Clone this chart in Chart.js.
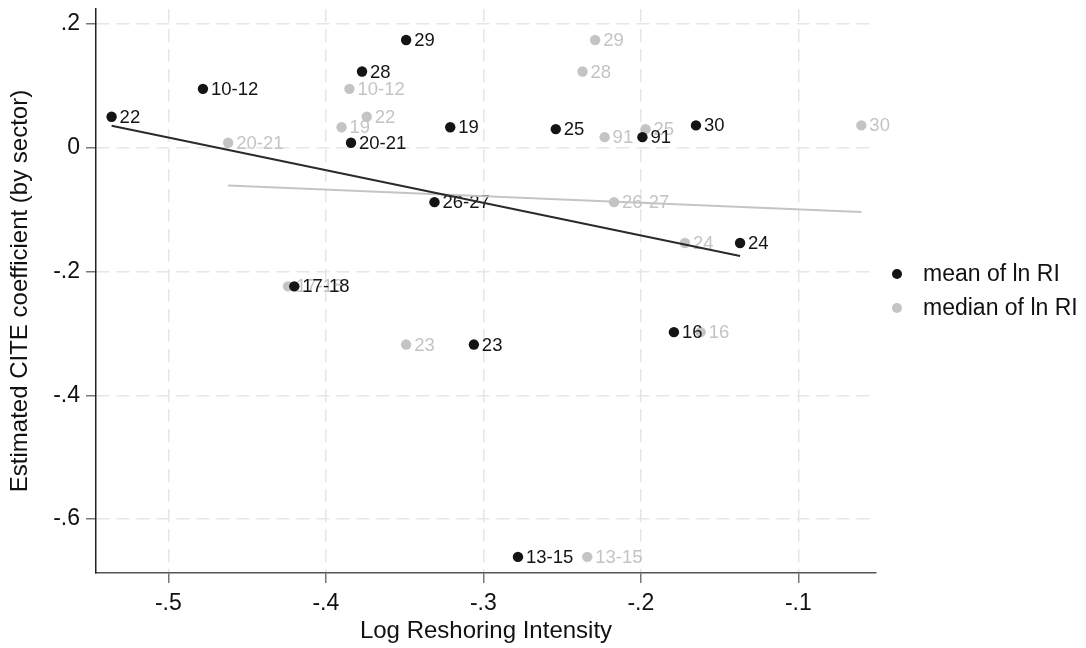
<!DOCTYPE html>
<html>
<head>
<meta charset="utf-8">
<script src="https://cdn.jsdelivr.net/npm/chart.js@4/dist/chart.umd.min.js"></script>
<style>
  body { margin: 0; background: #fff; }
  #wrap { width: 1086px; height: 648px; }
</style>
</head>
<body>
<div id="wrap"><canvas id="chart" width="1086" height="648"></canvas></div>
<script>
// sectors (NACE codes) and their estimated CITE coefficient
const sectors = ['10-12', '13-15', '16', '17-18', '19', '20-21', '22', '23', '24', '25', '26-27', '28', '29', '30', '91'];
const citeCoef = [0.095, -0.661, -0.298, -0.224, 0.033, 0.008, 0.050, -0.318, -0.154, 0.030, -0.088, 0.123, 0.174, 0.036, 0.017];

// log reshoring intensity, mean and median by sector
const meanLnRI = [-0.478, -0.278, -0.179, -0.420, -0.321, -0.384, -0.536, -0.306, -0.137, -0.254, -0.331, -0.377, -0.349, -0.165, -0.199];
const medianLnRI = [-0.385, -0.234, -0.162, -0.424, -0.390, -0.462, -0.374, -0.349, -0.172, -0.197, -0.217, -0.237, -0.229, -0.060, -0.223];

// fitted lines (end points)
const meanFitX = [-0.536, -0.137];
const meanFitY = [0.0355, -0.175];
const medianFitX = [-0.462, -0.060];
const medianFitY = [-0.061, -0.104];

// axis ticks
const xTicks = [-0.5, -0.4, -0.3, -0.2, -0.1];
const xTickLabels = ['-.5', '-.4', '-.3', '-.2', '-.1'];
const yTicks = [0.2, 0, -0.2, -0.4, -0.6];
const yTickLabels = ['.2', '0', '-.2', '-.4', '-.6'];

const FONT = '"Liberation Sans", Arial, Helvetica, sans-serif';
const BLACK = '#141414';
const GREY = '#c4c4c4';

const toPoints = (xs, ys) => xs.map((x, i) => ({ x: x, y: ys[i] }));

// draws the sector label to the right of each marker
const pointLabels = {
  id: 'pointLabels',
  afterDatasetDraw(chart, args) {
    const ds = chart.data.datasets[args.index];
    if (!ds.pointText) return;
    const ctx = chart.ctx;
    ctx.save();
    ctx.font = '18.5px ' + FONT;
    ctx.fillStyle = ds.backgroundColor;
    ctx.textAlign = 'left';
    ctx.textBaseline = 'middle';
    args.meta.data.forEach((pt, i) => {
      ctx.fillText(ds.pointText[i], pt.x + 8, pt.y + 1);
    });
    ctx.restore();
  }
};

// legend on the right, stata style
const sideLegend = {
  id: 'sideLegend',
  afterDraw(chart) {
    const ctx = chart.ctx;
    const area = chart.chartArea;
    const mid = (area.top + area.bottom) / 2;
    const items = chart.data.datasets.filter(d => d.pointText);
    ctx.save();
    ctx.font = '23px ' + FONT;
    ctx.textBaseline = 'middle';
    items.forEach((d, i) => {
      const y = mid - 17 + i * 34;
      ctx.fillStyle = d.backgroundColor;
      ctx.beginPath();
      ctx.arc(area.right + 21, y, 5, 0, Math.PI * 2);
      ctx.fill();
      ctx.fillStyle = '#111';
      ctx.fillText(d.label, area.right + 47, y + 1);
    });
    ctx.restore();
  }
};

const gridOpts = {
  color: '#e6e6e6',
  lineWidth: 1.5,
  tickLength: 10,
  tickColor: '#777',
  tickWidth: 1.5
};

new Chart(document.getElementById('chart').getContext('2d'), {
  type: 'scatter',
  data: {
    datasets: [
      {
        label: 'fit mean',
        data: toPoints(meanFitX, meanFitY),
        showLine: true,
        borderColor: '#2a2a2a',
        borderWidth: 2,
        pointRadius: 0,
        order: 0
      },
      {
        label: 'fit median',
        data: toPoints(medianFitX, medianFitY),
        showLine: true,
        borderColor: GREY,
        borderWidth: 2,
        pointRadius: 0,
        order: 0
      },
      {
        label: 'mean of ln RI',
        data: toPoints(meanLnRI, citeCoef),
        pointText: sectors,
        backgroundColor: BLACK,
        borderWidth: 0,
        pointRadius: 5.2,
        order: 1
      },
      {
        label: 'median of ln RI',
        data: toPoints(medianLnRI, citeCoef),
        pointText: sectors,
        backgroundColor: GREY,
        borderWidth: 0,
        pointRadius: 5.2,
        order: 2
      }
    ]
  },
  options: {
    responsive: false,
    animation: false,
    layout: { padding: { top: 9, right: 210, left: 0, bottom: 0 } },
    plugins: {
      legend: { display: false },
      tooltip: { enabled: false }
    },
    scales: {
      x: {
        type: 'linear',
        min: -0.5459,
        max: -0.0507,
        afterBuildTicks: s => { s.ticks = xTicks.map(v => ({ value: v })); },
        afterFit: s => {
          s.height = 75;
          s.paddingLeft = 0;
          s.paddingRight = 0;
        },
        ticks: {
          font: { family: FONT, size: 23 },
          color: '#111',
          padding: 7,
          maxRotation: 0,
          autoSkip: false,
          callback: (v, i) => xTickLabels[i]
        },
        title: {
          display: true,
          text: 'Log Reshoring Intensity',
          font: { family: FONT, size: 24 },
          color: '#111',
          padding: { top: 0, bottom: 2 }
        },
        grid: gridOpts,
        border: { display: true, color: '#555', width: 1.5, dash: [13, 7] }
      },
      y: {
        type: 'linear',
        min: -0.687,
        max: 0.224,
        afterBuildTicks: s => { s.ticks = yTicks.map(v => ({ value: v })); },
        afterFit: s => {
          s.width = 96;
          s.paddingTop = 0;
          s.paddingBottom = 0;
        },
        ticks: {
          font: { family: FONT, size: 23 },
          color: '#111',
          padding: 6,
          autoSkip: false,
          callback: (v, i) => yTickLabels[i]
        },
        title: {
          display: true,
          text: 'Estimated CITE coefficient (by sector)',
          font: { family: FONT, size: 24 },
          color: '#111',
          padding: { top: 6, bottom: 0 }
        },
        grid: gridOpts,
        border: { display: true, color: '#222', width: 1.5, dash: [13, 7] }
      }
    }
  },
  plugins: [pointLabels, sideLegend]
});
</script>
</body>
</html>
